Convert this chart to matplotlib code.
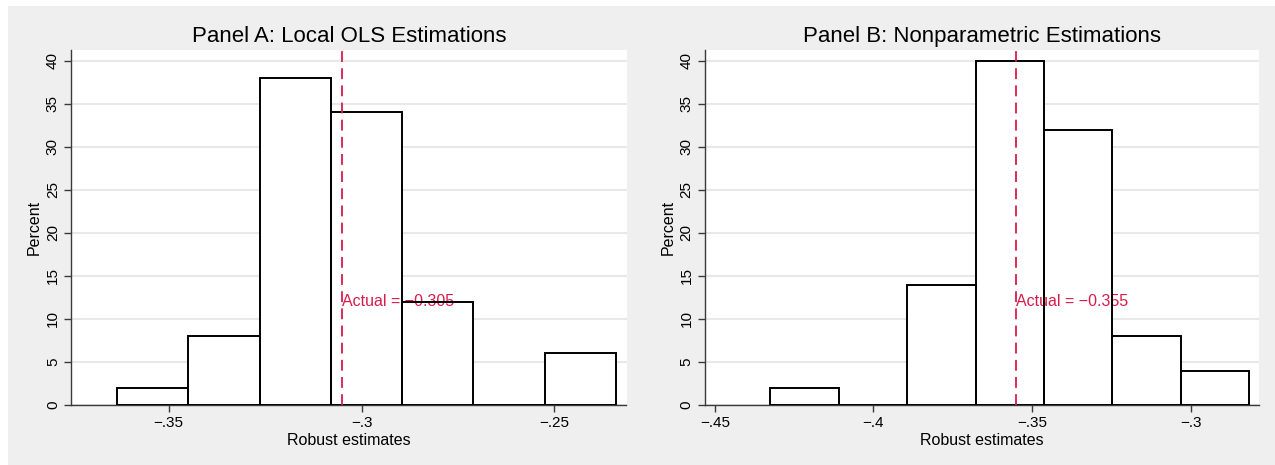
import numpy as np
import matplotlib
matplotlib.use("Agg")
import matplotlib.pyplot as plt
from matplotlib.patches import Rectangle

plt.rcParams['font.family'] = ['Liberation Sans', 'DejaVu Sans']

# ---- data ----
titles = ["Panel A: Local OLS Estimations", "Panel B: Nonparametric Estimations"]
edges_a = [-0.3634, -0.3449, -0.3264, -0.3079, -0.2894, -0.2710, -0.2525, -0.2340]
pct_a = [2, 8, 38, 34, 12, 0, 6]
actual_a = -0.305
xticks_a = [-0.35, -0.30, -0.25]
xticklabels_a = ["\u2212.35", "\u2212.3", "\u2212.25"]

edges_b = [-0.4325, -0.4110, -0.3894, -0.3678, -0.3463, -0.3247, -0.3031, -0.2816]
pct_b = [2, 0, 14, 40, 32, 8, 4]
actual_b = -0.355
xticks_b = [-0.45, -0.40, -0.35, -0.30]
xticklabels_b = ["\u2212.45", "\u2212.4", "\u2212.35", "\u2212.3"]

yticks = [0, 5, 10, 15, 20, 25, 30, 35, 40]
xlabel = "Robust estimates"
ylabel = "Percent"

W, H = 1275, 465
fig = plt.figure(figsize=(W / 100, H / 100), dpi=100, facecolor='white')
fig.patches.append(Rectangle((8 / W, 0), 1 - 8 / W, 1 - 6 / H, transform=fig.transFigure,
                             facecolor='#efefef', edgecolor='none', zorder=-10))

red = '#d81b4a'
panels = [
    dict(pos=[71 / W, 60 / H, 555.5 / W, 355 / H], edges=edges_a, pct=pct_a, actual=actual_a,
         xt=xticks_a, xtl=xticklabels_a, xlim=(-0.37534, -0.23132), title=titles[0]),
    dict(pos=[704.8 / W, 60 / H, 554.6 / W, 355 / H], edges=edges_b, pct=pct_b, actual=actual_b,
         xt=xticks_b, xtl=xticklabels_b, xlim=(-0.45318, -0.27829), title=titles[1]),
]

for p in panels:
    ax = fig.add_axes(p['pos'])
    ax.set_facecolor('white')
    e = np.array(p['edges'])
    ax.bar(e[:-1], p['pct'], width=np.diff(e), align='edge', facecolor='white',
           edgecolor='none', zorder=2)
    ax.bar(e[:-1], p['pct'], width=np.diff(e), align='edge', facecolor='none',
           edgecolor='black', linewidth=1.4, zorder=6)
    ax.axvline(p['actual'], color=red, linestyle=(0, (6, 3.5)), linewidth=1.3, zorder=7)
    ax.text(p['actual'], 12, f"Actual = \u2212{abs(p['actual']):.3f}", color=red,
            fontsize=11.5, ha='left', va='center', zorder=5)
    ax.set_xlim(*p['xlim'])
    ax.set_ylim(0, 41.25)
    ax.set_yticks(yticks)
    ax.set_yticklabels([str(v) for v in yticks], rotation=90, va='center', fontsize=11)
    ax.set_xticks(p['xt'])
    ax.set_xticklabels(p['xtl'], fontsize=11)
    ax.grid(axis='y', color='#e8e8e8', linewidth=1.5, zorder=0)
    ax.set_axisbelow(True)
    for s in ['top', 'right']:
        ax.spines[s].set_visible(False)
    for s in ['left', 'bottom']:
        ax.spines[s].set_color('#3a3a3a')
        ax.spines[s].set_linewidth(1.0)
    ax.tick_params(axis='both', direction='out', length=5, width=1.0, color='#3a3a3a',
                   labelcolor='black', pad=3)
    ax.set_xlabel(xlabel, fontsize=11.5, labelpad=2)
    ax.set_ylabel(ylabel, fontsize=11.5, labelpad=3)
    ax.set_title(p['title'], fontsize=16, pad=6)

fig.savefig('out.png', dpi=100, facecolor=fig.get_facecolor())
